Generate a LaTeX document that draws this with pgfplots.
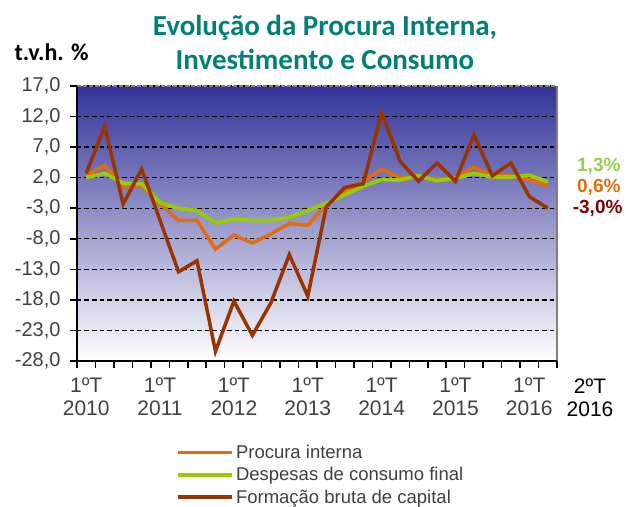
\documentclass[border=0pt]{standalone}
\usepackage{fontspec}
\setmainfont{Liberation Sans}
\newfontfamily\calibri{Carlito}
\usepackage{pgfplots}
\usepackage{pgfplotstable}
\pgfplotsset{compat=1.18}

\definecolor{procura}{RGB}{228,108,10}
\definecolor{despesas}{RGB}{153,204,0}
\definecolor{fbc}{RGB}{153,51,0}
\definecolor{titulo}{RGB}{0,128,120}
\definecolor{bgtop}{RGB}{51,51,153}
\definecolor{bgmid}{RGB}{175,175,210}
\definecolor{txtgray}{RGB}{64,64,64}
\definecolor{lblgreen}{RGB}{146,208,80}
\definecolor{lblorange}{RGB}{228,108,10}
\definecolor{lblred}{RGB}{128,0,0}

% quarters 2010 Q1 ... 2016 Q2, plotted at category centres
\pgfplotstableread{
x    procura despesas fbc
0.5   2.4    2.0    2.7
1.5   4.0    2.7   10.4
2.5   0.5    1.1   -2.3
3.5   0.6    1.0    3.4
4.5  -2.3   -2.1   -5.0
5.5  -5.0   -3.0  -13.4
6.5  -5.0   -3.4  -11.6
7.5  -9.7   -5.4  -26.4
8.5  -7.4   -4.8  -18.2
9.5  -8.7   -5.0  -23.8
10.5 -7.2   -5.0  -18.5
11.5 -5.5   -4.5  -10.6
12.5 -5.8   -3.4  -17.4
13.5 -2.5   -2.2   -2.8
14.5 -0.3   -0.8    0.4
15.5  1.35   0.6    1.0
16.5  3.4    1.7   12.6
17.5  2.0    1.6    4.7
18.5  1.9    2.3    1.4
19.5  1.8    1.5    4.4
20.5  2.0    1.9    1.4
21.5  3.7    2.7    9.0
22.5  2.3    2.1    2.3
23.5  2.3    2.1    4.4
24.5  1.7    2.4   -1.1
25.5  0.6    1.3   -3.0
}\dados

\begin{document}
\begin{tikzpicture}[x=1pt,y=1pt]
\useasboundingbox (0,0) rectangle (626,506);
\begin{axis}[
    at={(77pt,145pt)}, anchor=south west,
    scale only axis, width=480pt, height=275pt,
    xmin=0, xmax=26, ymin=-28, ymax=17,
    ytick={-28,-23,...,17},
    xtick={0,...,26}, xticklabels={},
    extra x ticks={0.5,4.5,...,24.5},
    extra x tick labels={1ºT\\2010,1ºT\\2011,1ºT\\2012,1ºT\\2013,1ºT\\2014,1ºT\\2015,1ºT\\2016},
    extra x tick style={major tick length=0pt, grid=none},
    xtick pos=bottom, ytick pos=left,
    tick align=outside, major tick length=7pt,
    tick style={black, line width=1.6pt},
    axis line style={draw=none},
    ymajorgrids,
    major grid style={black, line width=1.3pt, dash pattern=on 4.5pt off 3pt},
    axis background/.style={shade, top color=bgtop, middle color=bgmid, bottom color=white},
    yticklabel style={font=\fontsize{20}{23}\selectfont, text=txtgray, xshift=-6pt,
        /pgf/number format/.cd, fixed, fixed zerofill, precision=1, use comma, assume math mode=true},
    xticklabel style={font=\fontsize{21}{23}\selectfont, text=txtgray, align=center, yshift=-13pt},
    legend style={at={(0.2,-0.29)}, anchor=north west, draw=none, fill=none,
        font=\fontsize{18.5}{21}\selectfont, text=txtgray, row sep=3.5pt,
        /tikz/every even column/.append style={column sep=1pt}},
    legend cell align=left,
    legend image code/.code={\draw[#1] (0pt,0pt) -- (54pt,0pt);},
    clip=false,
]
\addplot[procura, line width=3.5pt] table[x=x, y=procura] {\dados};
\addlegendentry{Procura interna}
\addplot[despesas, line width=3.8pt] table[x=x, y=despesas] {\dados};
\addlegendentry{Despesas de consumo final}
\addplot[fbc, line width=3.5pt] table[x=x, y=fbc] {\dados};
\addlegendentry{Formação bruta de capital}
\draw[gray, line width=1.5pt, dash pattern=on 4pt off 2pt] (rel axis cs:0,1) -- (rel axis cs:1,1);
\draw[gray, line width=1.5pt] (rel axis cs:1,1) -- (rel axis cs:1,0);
\draw[black, line width=2.6pt] (rel axis cs:0,1) -- (rel axis cs:0,0) -- (rel axis cs:1,0);
\end{axis}
\node[font=\calibri\bfseries\fontsize{29}{34}\selectfont, text=titulo, align=center] at (325,464)
    {Evolução da Procura Interna,\\Investimento e Consumo};
\node[font=\calibri\bfseries\fontsize{24}{26}\selectfont, anchor=west] at (11,454) {t.v.h. \%};
\node[font=\fontsize{21}{23}\selectfont, align=center] at (590,108) {2ºT\\2016};
\node[font=\bfseries\fontsize{19}{21}\selectfont, text=lblgreen, anchor=east] at (624,340) {1,3\%};
\node[font=\bfseries\fontsize{19}{21}\selectfont, text=lblorange, anchor=east] at (624,319) {0,6\%};
\node[font=\bfseries\fontsize{19}{21}\selectfont, text=lblred, anchor=east] at (626,298) {-3,0\%};
\end{tikzpicture}
\end{document}
